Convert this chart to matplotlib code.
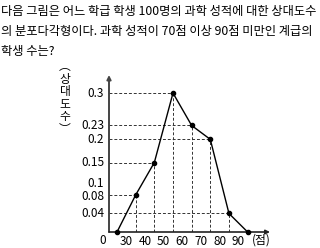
import matplotlib
matplotlib.use("Agg")
import matplotlib.pyplot as plt
import matplotlib.transforms as mtransforms

plt.rcParams['font.family'] = ['Noto Sans CJK KR', 'DejaVu Sans']

# 계급값과 상대도수
scores = [25, 35, 45, 55, 65, 75, 85, 95]
rel_freq = [0, 0.08, 0.15, 0.3, 0.23, 0.2, 0.04, 0]
y_ticks = [0.3, 0.23, 0.2, 0.15, 0.1, 0.08, 0.04]
y_labels = ["0.3", "0.23", "0.2", "0.15", "0.1", "0.08", "0.04"]
dashed_levels = [0.3, 0.23, 0.2, 0.15, 0.08, 0.04]
x_ticks = [30, 40, 50, 60, 70, 80, 90]

question = ["다음 그림은 어느 학급 학생 100명의 과학 성적에 대한 상대도수",
            "의 분포다각형이다. 과학 성적이 70점 이상 90점 미만인 계급의",
            "학생 수는?"]

fig = plt.figure(figsize=(3.2, 2.48), dpi=100)
ax = fig.add_axes([109/320, 16/248, 161/320, 157/248])
x0, x1 = 20.7, 107
y0, y1 = 0, 0.339
ax.set_xlim(x0, x1)
ax.set_ylim(y0, y1)

# 점선
for x, y in zip(scores[1:-1], rel_freq[1:-1]):
    ax.plot([x, x], [0, y], ls=(0, (3, 2)), color='#333333', lw=0.7)
for y in dashed_levels:
    xs = [x for x, v in zip(scores, rel_freq) if v == y][0]
    ax.plot([x0, xs], [y, y], ls=(0, (3, 2)), color='#333333', lw=0.7)

ax.plot(scores, rel_freq, color='black', lw=1.0, marker='o', ms=3,
        clip_on=False, zorder=5)

# 축
for s in ax.spines.values():
    s.set_visible(False)
ax.annotate('', xy=(x0, y1), xytext=(x0, 0),
            arrowprops=dict(arrowstyle='-|>', lw=1.4, color='#444444',
                            mutation_scale=6, shrinkA=0, shrinkB=0))
ax.annotate('', xy=(x1, 0), xytext=(x0, 0),
            arrowprops=dict(arrowstyle='-|>', lw=1.2, color='#222222',
                            mutation_scale=6, shrinkA=0, shrinkB=0))

ax.set_xticks(x_ticks)
ax.set_xticklabels([str(t) for t in x_ticks])
ax.set_yticks([])
ax.tick_params(length=0, labelsize=8.5, pad=2)

# y 눈금 글자 (0.1과 0.08은 겹치지 않게 조금 벌림)
ytrans = mtransforms.blended_transform_factory(ax.transAxes, ax.transData)
nudge = {"0.1": 2, "0.08": -2}
for y, lab in zip(y_ticks, y_labels):
    off = mtransforms.ScaledTranslation(-5/100, nudge.get(lab, 0)/100,
                                        fig.dpi_scale_trans)
    ax.text(0, y, lab, transform=ytrans + off, ha='right', va='center',
            fontsize=8.5)

fig.text(103/320, 1 - 240/248, '0', ha='center', va='center', fontsize=8.5)
fig.text(261/320, 1 - 240/248, '(점)', ha='center', va='center', fontsize=8.5)
fig.text(65/320, 1 - 98/248, '︵\n상\n대\n도\n수\n︶', ha='center', va='center',
         fontsize=8.5, linespacing=0.95)

# 문제 글: 첫 줄이 그림 폭에 맞도록 글자 크기 조정
texts = [fig.text(1/320, 1 - (12 + 19.5*i)/248, line, ha='left', va='center',
                  fontsize=9) for i, line in enumerate(question)]
renderer = fig.canvas.get_renderer()
w = texts[0].get_window_extent(renderer).width
size = 9 * 316 / w
for t in texts:
    t.set_fontsize(size)

fig.savefig('out.png', dpi=100)
